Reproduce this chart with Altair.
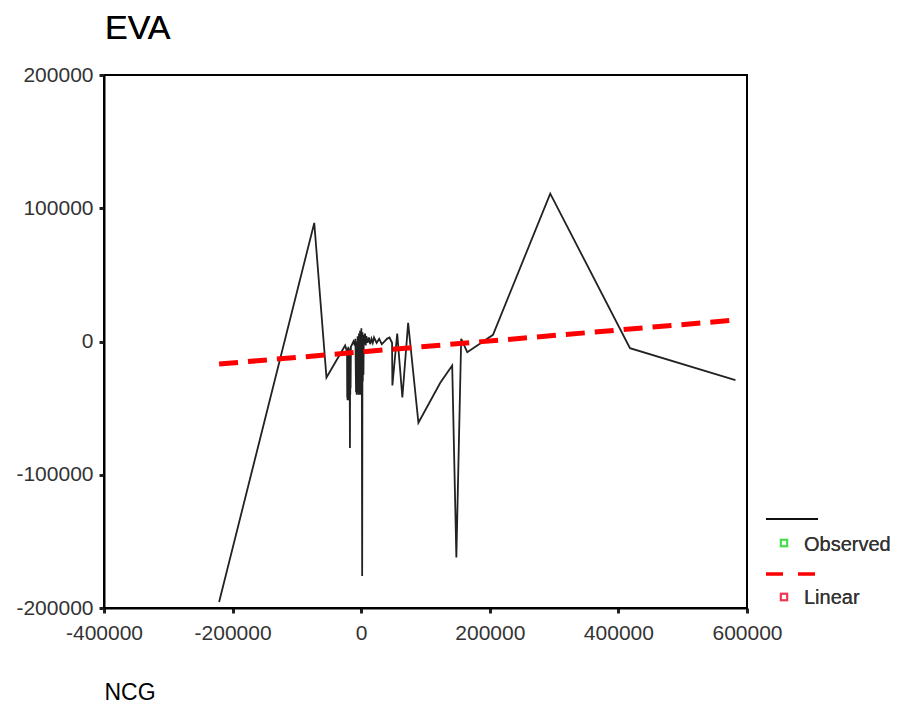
import altair as alt
import pandas as pd

# Observed series (NCG vs EVA), sorted by NCG
obs_x = [-221000, -73000, -54000, -25000, -23000, -22000, -21750, -21500, -21250, -21000,
         -20750, -20500, -20250, -20000, -19750, -19500, -19250, -19000, -18750, -18500,
         -18250, -18000, -17750, -17500, -17250, -17000, -16750, -16500, -16000, -14000,
         -12000, -10000, -9000, -8000, -7500, -7000, -6500, -6000, -5500, -5000,
         -4500, -4000, -3500, -3000, -2750, -2500, -2250, -2000, -1750, -1500,
         -1250, -1000, -750, -500, -250, 0, 250, 500, 750, 1000,
         1500, 2000, 2500, 3000, 3500, 4000, 5000, 6000, 7000, 8000,
         10000, 12000, 14000, 16000, 18000, 20000, 24000, 28000, 32000, 36000,
         40000, 44000, 48000, 48500, 56000, 64000, 73000, 89000, 123000, 141500,
         148000, 155500, 165000, 205000, 294000, 418000, 582000]
obs_y = [-195500, 89000, -27000, -3000, -6000, -10000, -42000, -5000, -44000, -6000,
         -40000, -8000, -43000, -4000, -44000, -6000, -41000, -5000, -42000, -8000,
         -38000, -10000, -45000, -80000, -12000, -40000, -6000, -35000, -4000, -2000,
         0, -3000, 2000, -38000, -5000, -40000, 0, -36000, 4000, -38000,
         -2000, -40000, 6000, -30000, 1000, -38000, 5000, -40000, 8000, -36000,
         2000, -38000, 6000, -40000, 3000, -38000, 10000, -39000, 4000, -35000,
         -176000, 7000, -30000, 4000, -25000, 5000, -2000, 6000, -3000, 4000,
         -1000, 3000, -2000, 2000, -1000, 3000, -1000, 2000, -2000, 0,
         2000, 3000, -1000, -33000, 6000, -42000, 14000, -61000, -31000, -18000,
         -162000, 2000, -8000, 5000, 111000, -5000, -29000]

# Linear fit, drawn across the observed range
lin_x = [-221000, 582000]
lin_y = [-16900, 16100]

x_ticks = [-400000, -200000, 0, 200000, 400000, 600000]
y_ticks = [-200000, -100000, 0, 100000, 200000]

obs = pd.DataFrame({"NCG": obs_x, "EVA": obs_y, "i": list(range(len(obs_x)))})
lin = pd.DataFrame({"NCG": lin_x, "EVA": lin_y})

FONT = "Liberation Sans"

xenc = alt.X("NCG:Q", scale=alt.Scale(domain=[-400000, 600000], nice=False, zero=False),
             axis=alt.Axis(values=x_ticks, title="NCG", labelExpr="'' + datum.value",
                           labelPadding=9,
                           titleX=0, titleY=91, titleAlign="left", titleBaseline="alphabetic",
                           titleFontSize=23, titleFontWeight="normal", titleFont=FONT,
                           titleColor="black", labelFlush=False))
yenc = alt.Y("EVA:Q", scale=alt.Scale(domain=[-200000, 200000], nice=False, zero=False),
             axis=alt.Axis(values=y_ticks, title=None, labelExpr="'' + datum.value",
                           labelPadding=6))

observed = alt.Chart(obs).mark_line(color="#222222", strokeWidth=1.8).encode(
    x=xenc, y=yenc, order="i:Q")

linear = alt.Chart(lin).mark_line(color="#ff0000", strokeWidth=5, strokeDash=[19, 10]).encode(
    x="NCG:Q", y="EVA:Q")

# Chart title and legend, drawn as text / symbol marks around the plot
title_txt = alt.Chart(lin).mark_text(align="left", baseline="alphabetic", fontSize=34, font=FONT,
                                     color="black").encode(
    x=alt.value(1), y=alt.value(-36), text=alt.value("EVA"))
leg_line = alt.Chart(lin).mark_rule(color="black", strokeWidth=1.6).encode(
    x=alt.value(662), x2=alt.value(714), y=alt.value(444))
leg_dash = alt.Chart(lin).mark_rule(color="#ff0000", strokeWidth=3, strokeDash=[17, 15]).encode(
    x=alt.value(662), x2=alt.value(714), y=alt.value(499))
leg_sq1 = alt.Chart(lin).mark_square(size=40, filled=False, color="#33dd33", strokeWidth=2).encode(
    x=alt.value(680), y=alt.value(468))
leg_sq2 = alt.Chart(lin).mark_square(size=40, filled=False, color="#ee2244", strokeWidth=2).encode(
    x=alt.value(680), y=alt.value(522))
leg_t1 = alt.Chart(lin).mark_text(align="left", baseline="middle", fontSize=20, font=FONT,
                                  color="#333333").encode(
    x=alt.value(700), y=alt.value(470), text=alt.value("Observed"))
leg_t2 = alt.Chart(lin).mark_text(align="left", baseline="middle", fontSize=20, font=FONT,
                                  color="#333333").encode(
    x=alt.value(700), y=alt.value(523), text=alt.value("Linear"))

chart = alt.layer(observed, linear, title_txt, leg_line, leg_dash, leg_sq1, leg_sq2,
                  leg_t1, leg_t2).properties(
    width=643, height=533,
    autosize=alt.AutoSizeParams(type="none"),
    padding={"left": 96, "top": 67, "right": 150, "bottom": 97},
).configure_view(stroke="black", strokeWidth=2).configure_axis(
    grid=False, domainColor="black", domainWidth=2, tickColor="#222222", tickWidth=3, tickSize=5,
    labelFont=FONT, labelFontSize=21, labelColor="#333333",
)

chart.save("out.html", embed_options={"renderer": "svg", "actions": False})
